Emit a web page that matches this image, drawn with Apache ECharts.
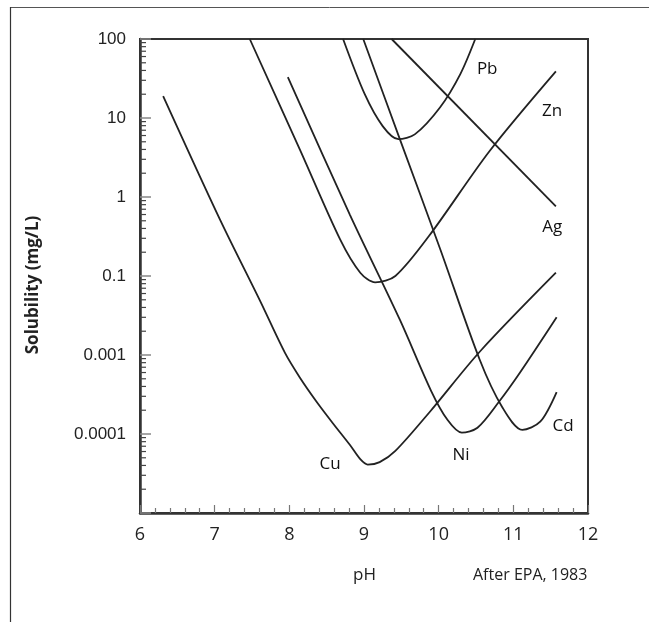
<!DOCTYPE html>
<html><head><meta charset="utf-8">
<script src="https://cdn.jsdelivr.net/npm/echarts@6/dist/echarts.min.js"></script>
<style>html,body{margin:0;padding:0;background:#fff}#c{width:649px;height:622px}</style>
</head><body><div id="c"></div>
<script>
// ---- data (pH, solubility mg/L) ----
const cuPH = [6.31, 7.07, 7.61, 7.94, 8.14, 8.36, 8.58, 8.81, 8.95, 9.05, 9.21, 9.42, 9.88, 10.55, 11.57];
const cuS  = [18.9, 0.52, 0.048, 0.0107, 0.0052, 0.0026, 0.00138, 0.00073, 0.00048, 0.00041, 0.00044, 0.00061, 0.0019, 0.011, 0.11];
const niPH = [7.98, 8.81, 9.48, 9.90, 10.12, 10.31, 10.52, 10.80, 11.09, 11.58];
const niS  = [33, 0.60, 0.028, 0.0035, 0.0015, 0.00104, 0.0012, 0.0025, 0.0060, 0.030];
const znPH = [7.47, 8.14, 8.68, 8.95, 9.15, 9.42, 9.88, 10.68, 11.57];
const znS  = [100, 4.0, 0.29, 0.11, 0.083, 0.10, 0.33, 3.8, 39];
const pbPH = [8.72, 9.01, 9.25, 9.46, 9.68, 10.02, 10.29, 10.49];
const pbS  = [100, 20, 7.9, 5.4, 6.2, 13.7, 36, 100];
const cdPH = [8.99, 9.48, 10.02, 10.55, 10.85, 11.12, 11.36, 11.58];
const cdS  = [100, 5.4, 0.22, 0.0087, 0.0022, 0.00113, 0.00143, 0.0034];
const agPH = [9.37, 11.57];
const agS  = [100, 0.76];
const metalNames = ['Cu', 'Ni', 'Zn', 'Pb', 'Cd', 'Ag'];
// y tick labels as printed on the reference (decades 10^2 ... 10^-4)
const yTickValues = [2, 1, 0, -1, -2, -3, -4];
const yTickLabels = ['100', '10', '1', '0.1', '0.001', '0.0001', ''];
const xTickLabels = ['6', '7', '8', '9', '10', '11', '12'];

// ---- label anchors (pH, mg/L) ----
const labelAnchors = {
  Cu: [8.545, 0.00041], Ni: [10.30, 0.00054], Zn: [11.52, 12.2],
  Pb: [10.65, 41.6], Cd: [11.665, 0.00127], Ag: [11.52, 0.41]
};

const curves = {Cu:[cuPH,cuS], Ni:[niPH,niS], Zn:[znPH,znS], Pb:[pbPH,pbS], Cd:[cdPH,cdS], Ag:[agPH,agS]};
const lg = v => Math.log10(v);
const series = metalNames.map(n => ({
  type: 'line', name: n, smooth: 0.3, symbol: 'none',
  lineStyle: {color: '#222', width: 1.8}, z: 5,
  data: curves[n][0].map((p, i) => [p, lg(curves[n][1][i])])
}));

// minor log ticks on y axis
const minorVals = [];
for (let e = -4; e < 2; e++) for (let k = 2; k <= 9; k++) minorVals.push(lg(k * Math.pow(10, e)));
series.push({
  type: 'custom', silent: true, z: 6,
  data: minorVals.map(v => [6, v]),
  renderItem: (params, api) => {
    const p = api.coord([api.value(0), api.value(1)]);
    return {type: 'line', shape: {x1: p[0], y1: p[1], x2: p[0] + 6, y2: p[1]},
      style: {stroke: '#444', lineWidth: 1.2}};
  }
});

const chart = echarts.init(document.getElementById('c'), null, {renderer: 'canvas'});
chart.setOption({
  animation: false,
  backgroundColor: '#fff',
  grid: {left: 140, top: 39, right: 61, bottom: 109, show: true, borderColor: '#333', borderWidth: 2},
  xAxis: {
    type: 'value', min: 6, max: 12, interval: 1,
    axisLine: {show: true, onZero: false, lineStyle: {color: '#333', width: 2.5}},
    axisTick: {show: true, inside: true, length: 8, lineStyle: {color: '#777', width: 1.2}},
    minorTick: {show: true, splitNumber: 5, length: 5, lineStyle: {color: '#777', width: 1.2}},
    splitLine: {show: false},
    axisLabel: {margin: 13, color: '#222', fontFamily: 'Open Sans', fontSize: 18,
      formatter: v => xTickLabels[Math.round(v - 6)]}
  },
  yAxis: {
    type: 'value', min: -4, max: 2, interval: 1,
    axisLine: {show: true, onZero: false, lineStyle: {color: '#333', width: 2.5}},
    axisTick: {show: true, inside: true, length: 11, lineStyle: {color: '#888', width: 1.5}},
    splitLine: {show: false},
    axisLabel: {margin: 14, color: '#222', fontFamily: 'Liberation Sans', fontSize: 17,
      formatter: v => yTickLabels[yTickValues.indexOf(Math.round(v))]}
  },
  graphic: [
    {id: 'fTop', type: 'line', shape: {x1: 10, y1: 7.5, x2: 649, y2: 7.5}, style: {stroke: '#555', lineWidth: 1}},
    {id: 'fLeft', type: 'line', shape: {x1: 10.5, y1: 7, x2: 10.5, y2: 622}, style: {stroke: '#333', lineWidth: 1.2}},
    {id: 'tPH', type: 'text', left: 353, top: 567, style: {text: 'pH', fontFamily: 'Open Sans', fontSize: 17, fill: '#222'}},
    {id: 'tSrc', type: 'text', left: 473, top: 567, style: {text: 'After EPA, 1983', fontFamily: 'Open Sans', fontSize: 16, fill: '#222'}},
    {id: 'tY', type: 'text', x: 33, y: 285, rotation: Math.PI / 2,
      style: {text: 'Solubility (mg/L)', fontFamily: 'Open Sans', fontWeight: 'bold', fontSize: 17, fill: '#222',
        align: 'center', verticalAlign: 'middle'}}
  ],
  series: series
});

// curve name labels placed through the chart's own coordinate conversion
chart.setOption({
  graphic: metalNames.map(n => {
    const p = chart.convertToPixel({gridIndex: 0}, [labelAnchors[n][0], lg(labelAnchors[n][1])]);
    return {id: 'lbl' + n, type: 'text', x: p[0], y: p[1], z: 20,
      style: {text: n, fontFamily: 'Open Sans', fontSize: 17, fill: '#111', align: 'center', verticalAlign: 'middle'}};
  })
});
</script></body></html>
